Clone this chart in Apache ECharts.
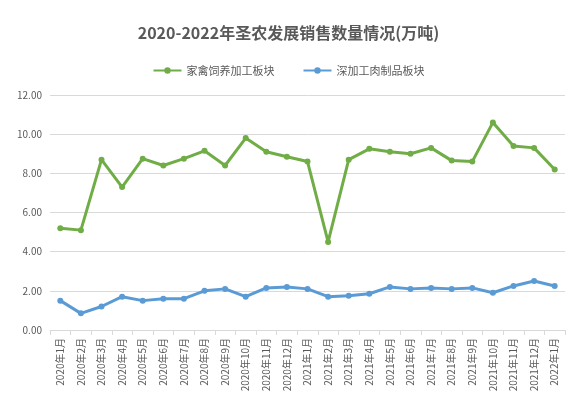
<!DOCTYPE html>
<html lang="zh">
  <head>
    <meta charset="UTF-8" />
    <title>2020-2022年圣农发展销售数量情况</title>
    <style>
      html,
      body {
        margin: 0;
        width: 100%;
        height: 100%;
        background: #fff;
      }
      #main {
        width: 577px;
        height: 405px;
      }
    </style>
  </head>
  <body>
    <div id="main"></div>
    <script src="https://cdn.jsdelivr.net/npm/echarts@6/dist/echarts.min.js"></script>
    <script>
      // 月份
      const months = [];
      for (let i = 1; i <= 12; i++) months.push("2020年" + i + "月");
      for (let i = 1; i <= 12; i++) months.push("2021年" + i + "月");
      months.push("2022年1月");

      // 家禽饲养加工板块
      const poultry = [
        5.2, 5.1, 8.7, 7.3, 8.75, 8.4, 8.75, 9.15, 8.4, 9.8, 9.1, 8.85,
        8.6, 4.5, 8.7, 9.25, 9.1, 9.0, 9.3, 8.65, 8.6, 10.6, 9.4, 9.3, 8.2,
      ];
      // 深加工肉制品板块
      const processed = [
        1.5, 0.85, 1.2, 1.7, 1.5, 1.6, 1.6, 2.0, 2.1, 1.7, 2.15, 2.2,
        2.1, 1.7, 1.75, 1.85, 2.2, 2.1, 2.15, 2.1, 2.15, 1.9, 2.25, 2.5, 2.25,
      ];

      const font = "'Noto Sans CJK SC', sans-serif";
      const option = {
        textStyle: { fontFamily: font },
        title: {
          text: "2020-2022年圣农发展销售数量情况(万吨)",
          left: "center",
          top: 20,
          textStyle: { fontSize: 16, fontWeight: "bold", color: "#595959", fontFamily: font },
        },
        legend: {
          top: 60,
          itemWidth: 28,
          itemHeight: 8,
          itemGap: 28,
          textStyle: { fontSize: 11, color: "#595959" },
        },
        grid: { left: 50, right: 12, top: 95, bottom: 75 },
        xAxis: {
          type: "category",
          data: months,
          boundaryGap: true,
          axisLine: { lineStyle: { color: "#d9d9d9" } },
          axisTick: { show: true, lineStyle: { color: "#d9d9d9" } },
          axisLabel: { rotate: 90, fontSize: 10, color: "#595959", interval: 0 },
        },
        yAxis: {
          type: "value",
          min: 0,
          max: 12,
          interval: 2,
          axisLabel: {
            fontSize: 10,
            color: "#595959",
            formatter: (v) => v.toFixed(2),
          },
          splitLine: { lineStyle: { color: "#d9d9d9" } },
        },
        series: [
          {
            name: "家禽饲养加工板块",
            type: "line",
            data: poultry,
            symbol: "circle",
            symbolSize: 6,
            color: "#70ad47",
            lineStyle: { width: 3 },
          },
          {
            name: "深加工肉制品板块",
            type: "line",
            data: processed,
            symbol: "circle",
            symbolSize: 6,
            color: "#5b9bd5",
            lineStyle: { width: 3 },
          },
        ],
      };
      const myChart = echarts.init(document.getElementById("main"));
      myChart.setOption(option);
    </script>
  </body>
</html>
